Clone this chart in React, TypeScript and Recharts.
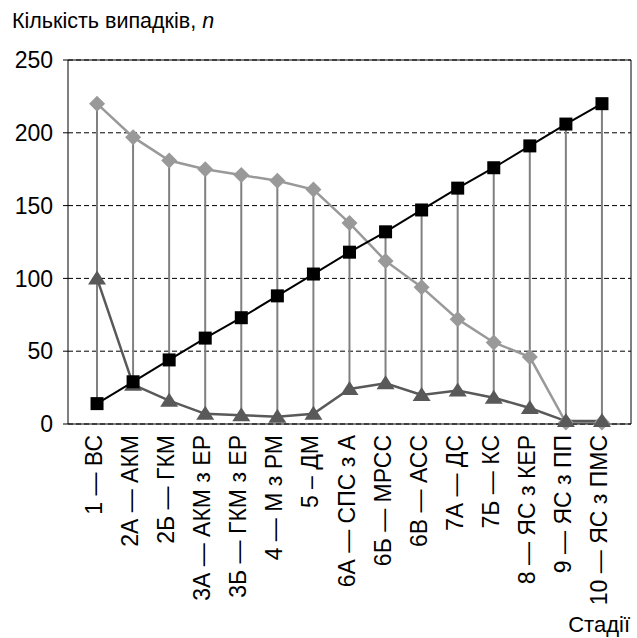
import React from "react";
import {
  ComposedChart,
  Bar,
  Line,
  XAxis,
  YAxis,
  CartesianGrid,
  ReferenceLine,
} from "recharts";

const stages = [
  "1 — ВС",
  "2А — АКМ",
  "2Б — ГКМ",
  "3А — АКМ з ЕР",
  "3Б — ГКМ з ЕР",
  "4 — М з РМ",
  "5 – ДМ",
  "6А — СПС з А",
  "6Б — МРСС",
  "6В — АСС",
  "7А — ДС",
  "7Б — КС",
  "8 — ЯС з КЕР",
  "9 — ЯС з ПП",
  "10 — ЯС з ПМС",
];

const diamondValues = [220, 197, 181, 175, 171, 167, 161, 138, 112, 94, 72, 56, 46, 1, 1];
const squareValues = [14, 29, 44, 59, 73, 88, 103, 118, 132, 147, 162, 176, 191, 206, 220];
const triangleValues = [100, 27, 16, 7, 6, 5, 7, 24, 28, 20, 23, 18, 11, 2, 2];

const yTicks = [0, 50, 100, 150, 200, 250];

const data = stages.map((stage, i) => {
  const vals = [diamondValues[i], squareValues[i], triangleValues[i]];
  return {
    stage,
    diamond: diamondValues[i],
    square: squareValues[i],
    triangle: triangleValues[i],
    range: [Math.min(...vals), Math.max(...vals)],
  };
});

const FONT = "'Liberation Sans', Arial, Helvetica, sans-serif";

const DiamondDot = (props: any) => {
  const { cx, cy, index } = props;
  if (cx == null || cy == null) return null;
  const r = 8;
  return (
    <path
      key={`d-${index}`}
      d={`M${cx},${cy - r} L${cx + r},${cy} L${cx},${cy + r} L${cx - r},${cy} Z`}
      fill="#999999"
    />
  );
};

const SquareDot = (props: any) => {
  const { cx, cy, index } = props;
  if (cx == null || cy == null) return null;
  const h = 6.5;
  return <rect key={`s-${index}`} x={cx - h} y={cy - h} width={h * 2} height={h * 2} fill="#000" />;
};

const TriangleDot = (props: any) => {
  const { cx, cy, index } = props;
  if (cx == null || cy == null) return null;
  return (
    <path
      key={`t-${index}`}
      d={`M${cx},${cy - 8} L${cx + 9},${cy + 6} L${cx - 9},${cy + 6} Z`}
      fill="#595959"
    />
  );
};

const StageTick = (props: any) => {
  const { x, y, payload } = props;
  return (
    <text
      transform={`translate(${x},${y}) rotate(-90)`}
      x={-11}
      y={5}
      textAnchor="end"
      fontFamily={FONT}
      fontSize={23}
      fill="#000"
    >
      {payload.value}
    </text>
  );
};

export default function App() {
  return (
    <div style={{ position: "absolute", left: 0, top: 0, width: 637, height: 638, background: "#fff" }}>
      <ComposedChart
        width={637}
        height={638}
        data={data}
        margin={{ top: 60, right: 0, left: 0, bottom: 0 }}
      >
        <CartesianGrid
          horizontal
          vertical={false}
          stroke="#000"
          strokeDasharray="5 3"
        />
        <XAxis
          dataKey="stage"
          interval={0}
          height={214}
          padding={{ left: 11, right: 11 }}
          tickLine={false}
          tickSize={0}
          tickMargin={0}
          axisLine={{ stroke: "#000" }}
          tick={<StageTick />}
        />
        <YAxis
          domain={[0, 250]}
          ticks={yTicks}
          width={68}
          tickSize={5}
          tickMargin={10}
          tickLine={{ stroke: "#000" }}
          axisLine={{ stroke: "#000" }}
          tick={{ fill: "#000", fontSize: 23, fontFamily: FONT }}
        />
        <YAxis
          yAxisId="r"
          orientation="right"
          domain={[0, 250]}
          width={6}
          tick={false}
          tickLine={false}
          axisLine={{ stroke: "#000" }}
        />
        <ReferenceLine y={250} stroke="#000" />
        <Bar dataKey="range" barSize={2} fill="#808080" isAnimationActive={false} />
        <Line
          dataKey="diamond"
          stroke="#999999"
          strokeWidth={2.5}
          dot={DiamondDot}
          activeDot={false}
          isAnimationActive={false}
        />
        <Line
          dataKey="triangle"
          stroke="#595959"
          strokeWidth={2.5}
          dot={TriangleDot}
          activeDot={false}
          isAnimationActive={false}
        />
        <Line
          dataKey="square"
          stroke="#000"
          strokeWidth={2}
          dot={SquareDot}
          activeDot={false}
          isAnimationActive={false}
        />
      </ComposedChart>
      <svg
        width={637}
        height={638}
        style={{ position: "absolute", left: 0, top: 0, pointerEvents: "none" }}
      >
        <text x={12} y={28} fontFamily={FONT} fontSize={21.5} fill="#000">
          Кількість випадків, <tspan fontStyle="italic">n</tspan>
        </text>
        <text x={630} y={632} textAnchor="end" fontFamily={FONT} fontSize={22} fill="#000">
          Стадії
        </text>
      </svg>
    </div>
  );
}
